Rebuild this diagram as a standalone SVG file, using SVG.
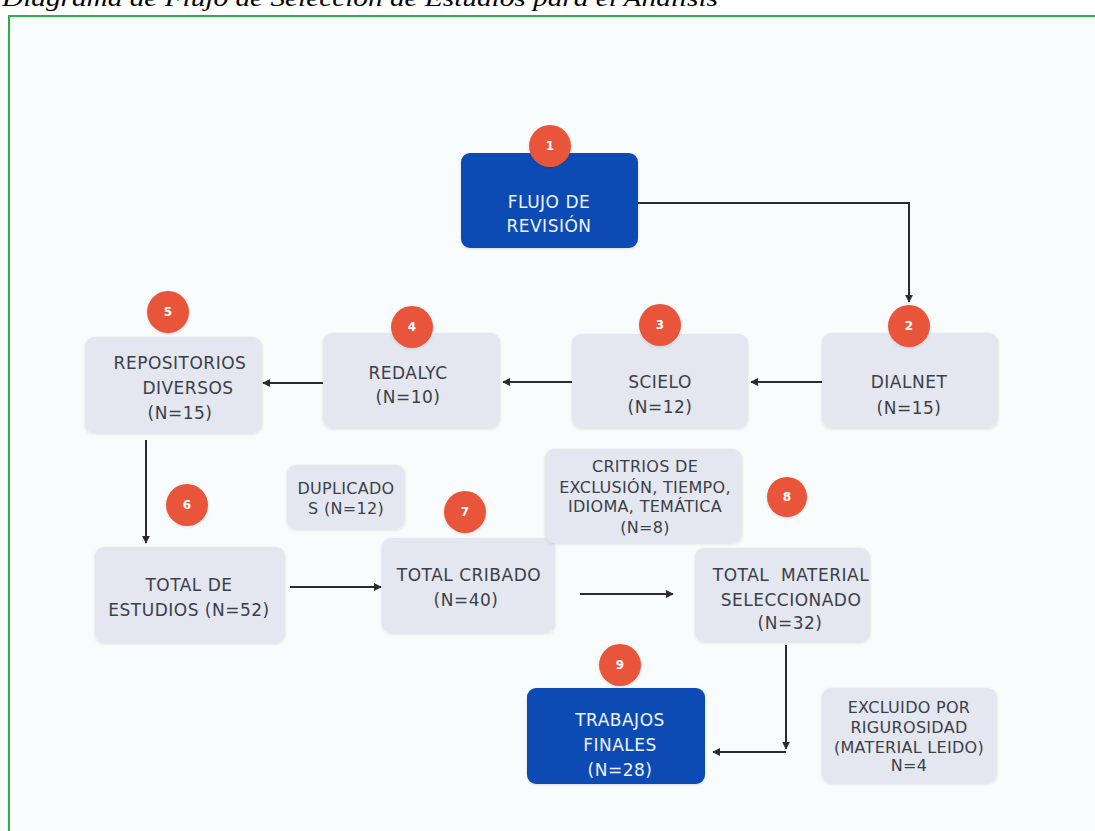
<svg xmlns="http://www.w3.org/2000/svg" width="1095" height="831" viewBox="0 0 1095 831">
<defs>
<style>
.box{fill:#e4e7ef;}
.blue{fill:#0d4cb4;}
.t{font-family:"DejaVu Sans",sans-serif;font-size:17px;fill:#3b4048;text-anchor:middle;letter-spacing:0.5px;}
.s{font-size:16px;letter-spacing:0.3px;}
.w{fill:#eef3fb;}
.badge{fill:#e9543a;}
.bn{font-family:"DejaVu Sans",sans-serif;font-size:12px;font-weight:bold;fill:#ffffff;text-anchor:middle;}
.c{fill:none;stroke:#2b2b2b;stroke-width:2;}
.title{font-family:"Liberation Serif",serif;font-style:italic;font-size:24px;fill:#000;}
</style>
<marker id="ah" viewBox="0 0 10 10" refX="9" refY="5" markerWidth="4" markerHeight="4" orient="auto" markerUnits="strokeWidth">
<path d="M0,0 L10,5 L0,10 z" fill="#2b2b2b"/>
</marker>
<filter id="sh" x="-10%" y="-10%" width="120%" height="130%">
<feDropShadow dx="0" dy="1" stdDeviation="1.5" flood-color="#000" flood-opacity="0.12"/>
</filter>
</defs>
<rect x="0" y="0" width="1095" height="831" fill="#ffffff"/>
<text class="title" x="2" y="6" textLength="716" lengthAdjust="spacingAndGlyphs">Diagrama de Flujo de Selección de Estudios para el Análisis</text>
<rect x="9" y="16" width="1100" height="830" fill="#f8fcfc" stroke="#27b04b" stroke-width="2"/>

<g id="connectors">
<path class="c" d="M638,203 H909 V302" marker-end="url(#ah)"/>
<path class="c" d="M822,382 H751" marker-end="url(#ah)"/>
<path class="c" d="M572,382 H503" marker-end="url(#ah)"/>
<path class="c" d="M323,383 H263" marker-end="url(#ah)"/>
<path class="c" d="M146,440 V543" marker-end="url(#ah)"/>
<path class="c" d="M290,587 H381" marker-end="url(#ah)"/>
<path class="c" d="M580,594 H673" marker-end="url(#ah)"/>
<path class="c" d="M786,645 V749" marker-end="url(#ah)"/>
<path class="c" d="M786,752 H713" marker-end="url(#ah)"/>
</g>

<g id="n1">
<rect class="blue" x="461" y="153" width="177" height="95" rx="9" filter="url(#sh)"/>
<text class="t w" x="549" y="208">FLUJO DE</text>
<text class="t w" x="549" y="232">REVISIÓN</text>
<circle class="badge" cx="550" cy="146" r="21" filter="url(#sh)"/>
<text class="bn" x="550" y="150">1</text>
</g>

<g id="n2">
<rect class="box" x="822" y="333" width="176" height="95" rx="9" filter="url(#sh)"/>
<text class="t" x="909" y="388">DIALNET</text>
<text class="t" x="909" y="414">(N=15)</text>
<circle class="badge" cx="909" cy="326" r="21" filter="url(#sh)"/>
<text class="bn" x="909" y="330">2</text>
</g>

<g id="n3">
<rect class="box" x="572" y="334" width="176" height="94" rx="9" filter="url(#sh)"/>
<text class="t" x="660" y="388">SCIELO</text>
<text class="t" x="660" y="413">(N=12)</text>
<circle class="badge" cx="660" cy="325" r="21" filter="url(#sh)"/>
<text class="bn" x="660" y="329">3</text>
</g>

<g id="n4">
<rect class="box" x="323" y="333" width="177" height="95" rx="9" filter="url(#sh)"/>
<text class="t" x="408" y="379">REDALYC</text>
<text class="t" x="408" y="403">(N=10)</text>
<circle class="badge" cx="412" cy="327" r="21" filter="url(#sh)"/>
<text class="bn" x="412" y="331">4</text>
</g>

<g id="n5">
<rect class="box" x="85" y="337" width="177" height="96" rx="9" filter="url(#sh)"/>
<text class="t" x="180" y="369">REPOSITORIOS</text>
<text class="t" x="188" y="394">DIVERSOS</text>
<text class="t" x="180" y="419">(N=15)</text>
<circle class="badge" cx="168" cy="312" r="21" filter="url(#sh)"/>
<text class="bn" x="168" y="316">5</text>
</g>

<g id="dup">
<rect class="box" x="287" y="465" width="118" height="64" rx="9" filter="url(#sh)"/>
<text class="t s" x="346" y="494">DUPLICADO</text>
<text class="t s" x="346" y="514">S (N=12)</text>
</g>

<g id="n6">
<rect class="box" x="95" y="547" width="190" height="96" rx="9" filter="url(#sh)"/>
<text class="t" x="189" y="591">TOTAL DE</text>
<text class="t" x="189" y="616">ESTUDIOS (N=52)</text>
<circle class="badge" cx="187" cy="505" r="21" filter="url(#sh)"/>
<text class="bn" x="187" y="509">6</text>
</g>

<g id="n7">
<rect class="box" x="382" y="538" width="173" height="95" rx="9" filter="url(#sh)"/>
<text class="t" x="469" y="581">TOTAL CRIBADO</text>
<text class="t" x="466" y="606">(N=40)</text>
<circle class="badge" cx="465" cy="512" r="21" filter="url(#sh)"/>
<text class="bn" x="465" y="516">7</text>
</g>

<g id="crit">
<rect class="box" x="545" y="449" width="197" height="94" rx="9" filter="url(#sh)"/>
<text class="t s" x="645" y="472">CRITRIOS DE</text>
<text class="t s" x="645" y="493">EXCLUSIÓN, TIEMPO,</text>
<text class="t s" x="645" y="512">IDIOMA, TEMÁTICA</text>
<text class="t s" x="645" y="533">(N=8)</text>
</g>

<g id="n8">
<rect class="box" x="695" y="548" width="175" height="94" rx="9" filter="url(#sh)"/>
<text class="t" x="791" y="581" xml:space="preserve">TOTAL  MATERIAL</text>
<text class="t" x="791" y="606">SELECCIONADO</text>
<text class="t" x="790" y="629">(N=32)</text>
<circle class="badge" cx="787" cy="497" r="20" filter="url(#sh)"/>
<text class="bn" x="787" y="501">8</text>
</g>

<g id="n9">
<rect class="blue" x="527" y="688" width="178" height="96" rx="9" filter="url(#sh)"/>
<text class="t w" x="620" y="726">TRABAJOS</text>
<text class="t w" x="620" y="751">FINALES</text>
<text class="t w" x="620" y="776">(N=28)</text>
<circle class="badge" cx="620" cy="665" r="21" filter="url(#sh)"/>
<text class="bn" x="620" y="669">9</text>
</g>

<g id="excl">
<rect class="box" x="822" y="688" width="175" height="95" rx="9" filter="url(#sh)"/>
<text class="t s" x="909" y="713">EXCLUIDO POR</text>
<text class="t s" x="909" y="733">RIGUROSIDAD</text>
<text class="t s" x="909" y="753">(MATERIAL LEIDO)</text>
<text class="t s" x="909" y="771">N=4</text>
</g>
</svg>
